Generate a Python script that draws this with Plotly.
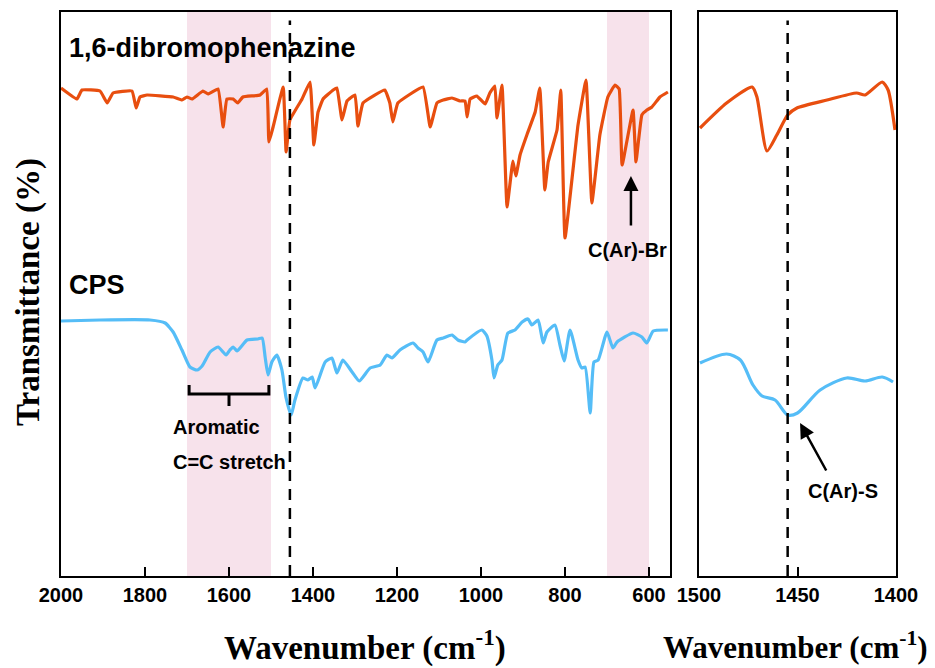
import plotly.graph_objects as go

# ---------------- data (arbitrary transmittance units) ----------------
dbp_wn = [2000, 1962, 1950, 1907, 1890, 1876, 1831, 1821, 1812, 1795, 1733, 1712, 1700, 1688,
          1662, 1650, 1626, 1614, 1605, 1590, 1579, 1567, 1526, 1510, 1505, 1495, 1471, 1464,
          1455, 1426, 1407, 1398, 1388, 1376, 1352, 1343, 1331, 1319, 1300, 1293, 1281, 1229,
          1217, 1210, 1198, 1138, 1121, 1105, 1090, 1069, 1050, 1038, 1033, 1026, 1010, 990,
          979, 967, 962, 950, 938, 924, 917, 907, 890, 871, 860, 848, 840, 819, 810, 800,
          769, 750, 736, 717, 698, 681, 671, 664, 638, 631, 617, 605, 593, 574, 555]
dbp_t = [488, 477, 486, 485, 473, 483, 485, 468, 479, 481, 479, 476, 479, 477,
         485, 482, 487, 449, 477, 477, 473, 479, 481, 487, 434, 449, 489, 424,
         456, 477, 494, 431, 464, 477, 486, 488, 456, 475, 481, 450, 473, 486,
         473, 454, 473, 489, 449, 473, 476, 478, 475, 475, 459, 477, 480, 472,
         483, 490, 458, 491, 369, 415, 400, 421, 442, 464, 488, 386, 414, 446, 486, 338,
         451, 496, 373, 441, 479, 491, 487, 411, 466, 414, 461, 466, 469, 479, 484]

dbp_zoom_wn = [1499.5, 1486, 1473, 1470.6, 1465.5, 1460.5, 1455, 1450.3, 1435, 1420, 1415.7, 1407, 1404, 1400.5]
dbp_zoom_t = [448, 473, 489, 479, 425, 441, 461, 468, 476, 483, 481, 494, 486, 446]

cps_wn = [2000, 1907, 1788, 1752, 1733, 1712, 1693, 1676, 1664, 1645, 1626, 1607, 1598, 1590,
          1581, 1557, 1531, 1521, 1514, 1507, 1498, 1486, 1474, 1464, 1452, 1443, 1424, 1412,
          1402, 1395, 1371, 1355, 1343, 1329, 1307, 1290, 1264, 1240, 1224, 1212, 1193, 1162,
          1150, 1138, 1126, 1105, 1090, 1069, 1055, 1038, 1033, 998, 986, 974, 969, 960, 950,
          936, 919, 902, 888, 879, 864, 852, 843, 824, 812, 802, 788, 769, 760, 752, 740, 731,
          721, 700, 686, 676, 638, 617, 605, 590, 555]
cps_t = [255, 256, 256, 253, 244, 226, 209, 206, 210, 224, 229, 221, 226, 229,
         225, 236, 237, 238, 219, 201, 214, 221, 206, 178, 161, 176, 198, 196,
         199, 188, 214, 218, 203, 216, 204, 195, 208, 211, 221, 218, 226, 233,
         228, 224, 214, 236, 238, 241, 236, 234, 236, 246, 240, 216, 198, 211, 216,
         243, 246, 254, 257, 251, 256, 233, 244, 251, 231, 215, 246, 216, 208, 209, 163, 214,
         216, 244, 228, 234, 243, 239, 233, 245, 246]

cps_zoom_wn = [1499.5, 1486, 1479, 1472.6, 1468, 1461.4, 1455, 1450, 1438.5, 1425, 1415.7, 1407, 1401.5]
cps_zoom_t = [213, 222, 216, 191, 180, 176, 161, 163, 186, 198, 195, 199, 194]

left_ticks = [2000, 1800, 1600, 1400, 1200, 1000, 800, 600]
right_ticks = [1500, 1450, 1400]
bands = [(1700, 1500), (700, 600)]
marker_wn = 1455

# ---------------- styling ----------------
ORANGE = "#E84E0F"
BLUE = "#55BDF7"
PINK = "#F7E2EB"
SANS = "Liberation Sans, Arial, sans-serif"
SERIF = "Liberation Serif, Times New Roman, serif"

fig = go.Figure()
fig.add_trace(go.Scatter(x=dbp_wn, y=dbp_t, mode="lines", line=dict(color=ORANGE, width=3.2, shape="spline", smoothing=0.3),
                         xaxis="x", yaxis="y", showlegend=False))
fig.add_trace(go.Scatter(x=cps_wn, y=cps_t, mode="lines", line=dict(color=BLUE, width=3.2, shape="spline", smoothing=0.5),
                         xaxis="x", yaxis="y", showlegend=False))
fig.add_trace(go.Scatter(x=dbp_zoom_wn, y=dbp_zoom_t, mode="lines", line=dict(color=ORANGE, width=3.2, shape="spline", smoothing=0.6),
                         xaxis="x2", yaxis="y2", showlegend=False))
fig.add_trace(go.Scatter(x=cps_zoom_wn, y=cps_zoom_t, mode="lines", line=dict(color=BLUE, width=3.2, shape="spline", smoothing=0.8),
                         xaxis="x2", yaxis="y2", showlegend=False))

shapes = []
for a, b in bands:
    shapes.append(dict(type="rect", xref="x", yref="y domain", x0=a, x1=b, y0=0, y1=1,
                       fillcolor=PINK, line=dict(width=0), layer="below"))
shapes.append(dict(type="line", xref="x", yref="y domain", x0=marker_wn, x1=marker_wn, y0=0, y1=0.985,
                   line=dict(color="black", width=2.5, dash="11px,8px")))
shapes.append(dict(type="line", xref="x2", yref="y2 domain", x0=marker_wn, x1=marker_wn, y0=0, y1=0.985,
                   line=dict(color="black", width=2.5, dash="11px,8px")))
# bracket under aromatic region
shapes.append(dict(type="path", xref="x", yref="y",
                   path="M 1695 191 L 1695 182 L 1505 182 L 1505 191",
                   line=dict(color="black", width=3)))
shapes.append(dict(type="line", xref="x", yref="y", x0=1600, x1=1600, y0=182, y1=170,
                   line=dict(color="black", width=3)))

annotations = [
    dict(text="1,6-dibromophenazine", x=1985, y=528, xref="x", yref="y", xanchor="left", yanchor="middle",
         showarrow=False, font=dict(family=SANS, size=27, color="black", weight="bold")),
    dict(text="CPS", x=1985, y=291, xref="x", yref="y", xanchor="left", yanchor="middle",
         showarrow=False, font=dict(family=SANS, size=27, color="black", weight="bold")),
    dict(text="C(Ar)-Br", x=652, y=326, xref="x", yref="y", xanchor="center", yanchor="middle",
         showarrow=False, font=dict(family=SANS, size=20, color="black", weight="bold")),
    dict(text="", x=643, y=400, xref="x", yref="y", ax=643, ay=349, axref="x", ayref="y",
         showarrow=True, arrowhead=2, arrowsize=1.2, arrowwidth=2.5, arrowcolor="black"),
    dict(text="Aromatic", x=1738, y=149, xref="x", yref="y", xanchor="left", yanchor="middle",
         showarrow=False, font=dict(family=SANS, size=20, color="black", weight="bold")),
    dict(text="C=C stretch", x=1738, y=114, xref="x", yref="y", xanchor="left", yanchor="middle",
         showarrow=False, font=dict(family=SANS, size=20, color="black", weight="bold")),
    dict(text="C(Ar)-S", x=1427, y=85, xref="x2", yref="y2", xanchor="center", yanchor="middle",
         showarrow=False, font=dict(family=SANS, size=20, color="black", weight="bold")),
    dict(text="", x=1448.7, y=153, xref="x2", yref="y2", ax=1435, ay=104, axref="x2", ayref="y2",
         showarrow=True, arrowhead=2, arrowsize=1.2, arrowwidth=2.5, arrowcolor="black"),
    dict(text="Wavenumber (cm<sup>-1</sup>)", x=365 / 935, y=1 - 645 / 668, xref="paper", yref="paper",
         xanchor="center", yanchor="middle", showarrow=False,
         font=dict(family=SERIF, size=33, color="black", weight="bold")),
    dict(text="Wavenumber (cm<sup>-1</sup>)", x=930 / 935, y=1 - 645 / 668, xref="paper", yref="paper",
         xanchor="right", yanchor="middle", showarrow=False,
         font=dict(family=SERIF, size=31, color="black", weight="bold")),
    dict(text="Transmittance (%)", x=28 / 935, y=1 - 292 / 668, xref="paper", yref="paper",
         xanchor="center", yanchor="middle", showarrow=False, textangle=-90,
         font=dict(family=SERIF, size=33, color="black", weight="bold")),
]

ydom = [1 - 576 / 668, 1 - 12 / 668]
common_x = dict(showgrid=False, zeroline=False, showline=True, linecolor="black", mirror=True,
                ticks="inside", ticklen=9, tickcolor="black", automargin=False,
                tickfont=dict(family=SANS, size=20, color="black", weight="bold"))
common_y = dict(showgrid=False, zeroline=False, showline=True, linecolor="black", mirror=True,
                showticklabels=False, ticks="", range=[0, 564], automargin=False)

fig.update_layout(
    width=935, height=668, margin=dict(l=0, r=0, t=0, b=0, autoexpand=False),
    plot_bgcolor="white", paper_bgcolor="white",
    xaxis=dict(domain=[61 / 935, 670 / 935], range=[2000, 550], tickvals=left_ticks,
               ticktext=[str(v) for v in left_ticks], linewidth=2, tickwidth=2, anchor="y", **common_x),
    yaxis=dict(domain=ydom, anchor="x", linewidth=2, **common_y),
    xaxis2=dict(domain=[699 / 935, 896 / 935], range=[1500, 1400], tickvals=right_ticks,
                ticktext=[str(v) for v in right_ticks], linewidth=1.5, tickwidth=1.5, anchor="y2", **common_x),
    yaxis2=dict(domain=ydom, anchor="x2", linewidth=1.5, **common_y),
    shapes=shapes, annotations=annotations,
)

fig.write_html("out.html")
